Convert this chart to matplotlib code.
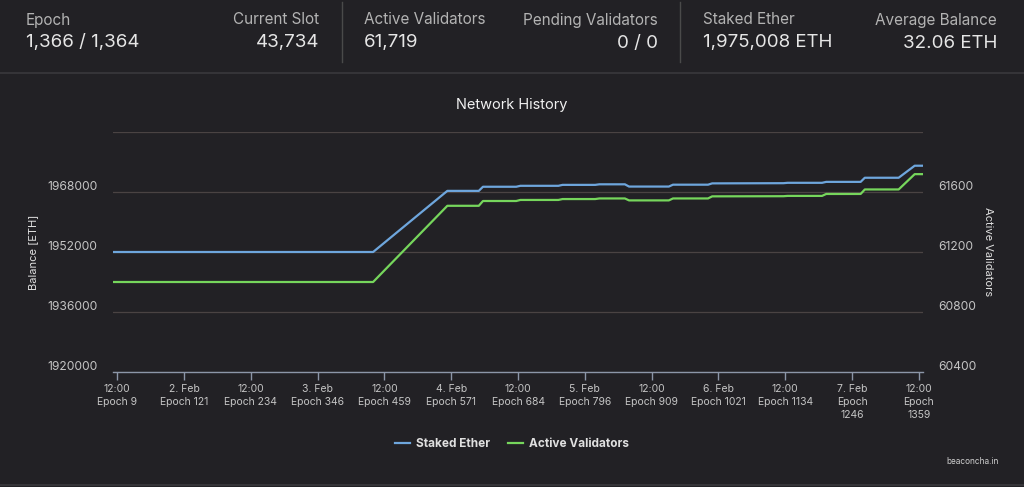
import matplotlib
matplotlib.use("Agg")
import matplotlib.pyplot as plt
from matplotlib.lines import Line2D
from matplotlib.transforms import ScaledTranslation

plt.rcParams['font.family'] = ['Inter', 'DejaVu Sans']

# header stats
stat_labels = ["Epoch", "Current Slot", "Active Validators", "Pending Validators",
               "Staked Ether", "Average Balance"]
stat_values = ["1,366 / 1,364", "43,734", "61,719", "0 / 0", "1,975,008 ETH", "32.06 ETH"]

# network history (epoch, staked ether, active validators)
epochs = [2, 440, 565, 618, 625, 681, 688, 752, 759, 814, 821, 864, 871, 938, 945,
          1004, 1011, 1131, 1138, 1196, 1203, 1261, 1268, 1325, 1352, 1366]
staked_ether = [1952000, 1952000, 1968300, 1968300, 1969400, 1969400, 1969650, 1969650,
                1969900, 1969900, 1970050, 1970050, 1969450, 1969450, 1969950, 1969950,
                1970300, 1970350, 1970450, 1970450, 1970700, 1970700, 1971800, 1971800,
                1975008, 1975008]
active_validators = [61000, 61000, 61508, 61508, 61540, 61540, 61547, 61547, 61553, 61553,
                     61557, 61557, 61544, 61544, 61557, 61557, 61571, 61572, 61574, 61574,
                     61587, 61587, 61617, 61617, 61719, 61719]

xtick_pos = [9, 121.5, 234, 346.5, 459, 571.5, 684, 796.5, 909, 1021.5, 1134, 1246.5, 1359]
xtick_labels = ["12:00\nEpoch 9", "2. Feb\nEpoch 121", "12:00\nEpoch 234", "3. Feb\nEpoch 346",
                "12:00\nEpoch 459", "4. Feb\nEpoch 571", "12:00\nEpoch 684", "5. Feb\nEpoch 796",
                "12:00\nEpoch 909", "6. Feb\nEpoch 1021", "12:00\nEpoch 1134",
                "7. Feb\nEpoch\n1246", "12:00\nEpoch\n1359"]
left_ticks = [1920000, 1936000, 1952000, 1968000, 1984000]
right_ticks = [60400, 60800, 61200, 61600, 62000]

BG = '#222125'
BLUE = '#6ea6dd'
GREEN = '#76d65c'
GRID = '#4a4343'
TICK = '#c4c4c4'

W, H = 1024, 487
fig = plt.figure(figsize=(W / 100, H / 100), dpi=100, facecolor=BG)

# ---- header ----
label_x = [26, 319, 364, 658, 703, 997]
align = ['left', 'right', 'left', 'right', 'left', 'right']
for lab, val, x, ha in zip(stat_labels, stat_values, label_x, align):
    fig.text(x / W, 1 - 20 / H, lab, ha=ha, va='center', fontsize=11, color='#b3b3b3')
    fig.text(x / W, 1 - 43 / H, val, ha=ha, va='center', fontsize=13.5, color='#e6e6e6')
for x in [342, 680]:
    fig.add_artist(Line2D([x / W, x / W], [1 - 2 / H, 1 - 62 / H], color='#4a4a4a', lw=1))
fig.add_artist(Line2D([0, 1], [1 - 73 / H, 1 - 73 / H], color='#3a393d', lw=1.2))
fig.add_artist(Line2D([0, 1], [1 - 485 / H, 1 - 485 / H], color='#3a393d', lw=1.2))

# ---- chart ----
ax = fig.add_axes([113 / W, 115 / H, 810 / W, 240 / H], facecolor=BG)
ax2 = ax.twinx()

ax.plot(epochs, staked_ether, color=BLUE, lw=1.6, zorder=3)
ax2.plot(epochs, active_validators, color=GREEN, lw=1.6, zorder=3)

ax.set_xlim(2, 1366)
ax.set_ylim(left_ticks[0], left_ticks[-1])
ax2.set_ylim(right_ticks[0], right_ticks[-1])

ax.set_yticks(left_ticks)
ax.set_yticklabels([str(v) for v in left_ticks[:-1]] + [""])
ax2.set_yticks(right_ticks)
ax2.set_yticklabels([str(v) for v in right_ticks[:-1]] + [""])
ax.grid(axis='y', color=GRID, lw=0.9)
ax.set_axisbelow(True)

ax.set_xticks(xtick_pos)
ax.set_xticklabels(xtick_labels, fontsize=7.5, color=TICK, linespacing=1.35)
ax.tick_params(axis='x', length=6, width=1, color='#8c96a8', pad=3)
ax.tick_params(axis='y', length=0, pad=11, labelsize=8.7, labelcolor=TICK)
ax2.tick_params(axis='y', length=0, pad=11, labelsize=8.7, labelcolor=TICK)

offset = ScaledTranslation(0, 6 / 100, fig.dpi_scale_trans)
for lbl in ax.get_yticklabels() + ax2.get_yticklabels():
    lbl.set_transform(lbl.get_transform() + offset)

for a in (ax, ax2):
    for side in ['top', 'left', 'right', 'bottom']:
        a.spines[side].set_visible(False)
ax.spines['bottom'].set_visible(True)
ax.spines['bottom'].set_color('#8c96a8')
ax.spines['bottom'].set_linewidth(1)

fig.text(33 / W, 1 - 252 / H, "Balance [ETH]", rotation=90, ha='center', va='center',
         fontsize=8, color='#e0e0e0')
fig.text(988 / W, 1 - 252 / H, "Active Validators", rotation=270, ha='center', va='center',
         fontsize=8, color='#e0e0e0')
fig.text(512 / W, 1 - 105 / H, "Network History", ha='center', va='center',
         fontsize=10.5, color='#f0f0f0')

handles = [Line2D([], [], color=BLUE, lw=1.6), Line2D([], [], color=GREEN, lw=1.6)]
fig.legend(handles, ["Staked Ether", "Active Validators"], loc='center',
           bbox_to_anchor=(512 / W, 1 - 444 / H), ncol=2, frameon=False,
           handlelength=1.3, handletextpad=0.5, columnspacing=1.5,
           prop={'size': 8.5, 'weight': 'bold'}, labelcolor='#e0e0e0')
fig.text(999 / W, 1 - 462 / H, "beaconcha.in", ha='right', va='center',
         fontsize=6, color='#d0d0d0')

fig.savefig("out.png", dpi=100, facecolor=BG)
